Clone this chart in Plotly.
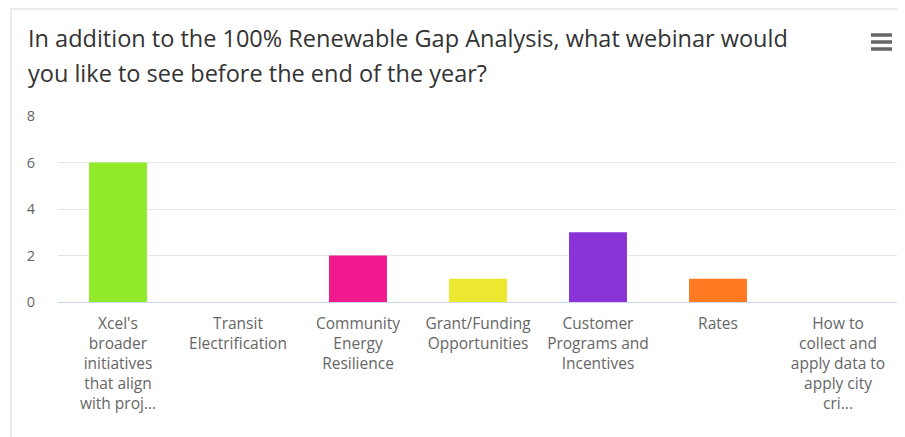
import plotly.graph_objects as go

categories = [
    "Xcel's<br>broader<br>initiatives<br>that align<br>with proj...",
    "Transit<br>Electrification",
    "Community<br>Energy<br>Resilience",
    "Grant/Funding<br>Opportunities",
    "Customer<br>Programs and<br>Incentives",
    "Rates",
    "How to<br>collect and<br>apply data to<br>apply city<br>cri...",
]
values = [6, 0, 2, 1, 3, 1, 0]
colors = ["#92eb2a", "#7cb5ec", "#f01a8e", "#ece72f", "#8a33d6", "#ff7a20", "#434348"]
y_ticks = [0, 2, 4, 6, 8]
title_lines = [
    "In addition to the 100% Renewable Gap Analysis, what webinar would",
    "you like to see before the end of the year?",
]

# page body has an 8px margin; coordinates below are in screenshot pixels
O = 8
W, H = 905 - O, 437 - O
L, R, T, B = 58 - O, 7, 116 - O, 135
pw, ph = W - L - R, H - T - B

def px(x):
    return (x - O - L) / pw

def py(y):
    return (H - B - (y - O)) / ph

fig = go.Figure(go.Bar(
    x=categories, y=values, marker=dict(color=colors, line=dict(width=0)),
    hoverinfo="x+y",
))

title_font = dict(size=23.5, color="#333333", family="Open Sans, sans-serif")
fig.update_layout(
    width=W, height=H,
    margin=dict(l=L, r=R, t=T, b=B),
    paper_bgcolor="white", plot_bgcolor="white",
    bargap=0.517,
    showlegend=False,
    font=dict(family="Open Sans, sans-serif", color="#666666"),
    annotations=[
        dict(text=title_lines[0], xref="paper", yref="paper", x=px(26), y=py(38),
             xanchor="left", yanchor="middle", showarrow=False, font=title_font),
        dict(text=title_lines[1], xref="paper", yref="paper", x=px(26), y=py(73),
             xanchor="left", yanchor="middle", showarrow=False, font=title_font),
    ],
    shapes=[
        dict(type="rect", xref="paper", yref="paper", x0=px(11), x1=px(W + 40), y0=py(9), y1=py(H + 40),
             line=dict(color="#e3e3e3", width=1.5), fillcolor="rgba(0,0,0,0)", layer="below"),
        dict(type="line", xref="paper", yref="paper", x0=px(871), x1=px(892), y0=py(35), y1=py(35),
             line=dict(color="#666666", width=3.5)),
        dict(type="line", xref="paper", yref="paper", x0=px(871), x1=px(892), y0=py(42), y1=py(42),
             line=dict(color="#666666", width=3.5)),
        dict(type="line", xref="paper", yref="paper", x0=px(871), x1=px(892), y0=py(49), y1=py(49),
             line=dict(color="#666666", width=3.5)),
    ],
)
fig.update_xaxes(
    showgrid=False, showline=True, linecolor="#ccd6eb", linewidth=1,
    tickfont=dict(size=15.5, color="#666666"), ticks="", tickangle=0,
    ticklabelstandoff=7,
)
fig.update_yaxes(
    range=[0, 8], tickvals=y_ticks, showgrid=True, gridcolor="#e6e6e6", gridwidth=1,
    zeroline=False, showline=False, tickfont=dict(size=14.5, color="#666666"),
    ticklabelstandoff=22,
)

fig.write_html("out.html")
